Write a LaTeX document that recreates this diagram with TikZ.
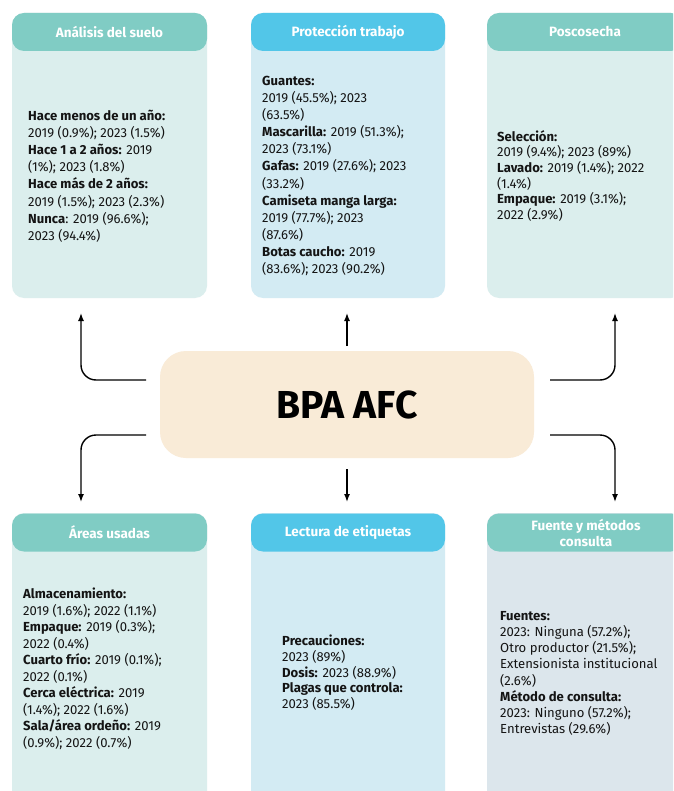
\documentclass[tikz,border=0pt]{standalone}
\usepackage{fontspec}
\setmainfont{Fira Sans}
\usetikzlibrary{arrows.meta}
\definecolor{tealH}{RGB}{128,204,196}
\definecolor{tealB}{RGB}{219,238,237}
\definecolor{blueH}{RGB}{82,198,232}
\definecolor{blueB}{RGB}{211,235,243}
\definecolor{greyB}{RGB}{220,230,236}
\definecolor{centerC}{RGB}{249,235,215}
\definecolor{ink}{RGB}{20,20,20}
\begin{document}
\begin{tikzpicture}[x=1pt,y=-1pt,
  body/.style={draw=none,rounded corners=12pt,inner sep=0pt,minimum width=#1},
  head/.style={draw=none,rounded corners=12pt,inner sep=0pt,minimum height=38pt,minimum width=#1,
     text=white,font=\fontsize{13.5}{16}\selectfont\bfseries,align=center},
  htxt/.style={text=white,font=\fontsize{13.5}{16}\selectfont\bfseries,align=center,inner sep=0pt},
  txt/.style={anchor=north west,inner sep=0pt,align=left,text=ink,
     font=\fontsize{13.1}{#1}\selectfont},
  arr/.style={line width=1.4pt,rounded corners=15pt,-{Latex[length=8pt,width=6pt]}}]
\clip (0,0) rectangle (673,791);
\fill[white] (0,0) rectangle (673,791);

% top row bodies
\node[body=195pt,minimum height=285pt,fill=tealB] (b1) at (109.5,155.5) {};
\node[body=194pt,minimum height=285pt,fill=blueB] (b2) at (348,155.5) {};
\node[body=196pt,minimum height=285pt,fill=tealB] (b3) at (585,155.5) {};
% top row headers
\node[head=195pt,fill=tealH] (h1) at (109.5,32) {Análisis del suelo};
\node[head=194pt,fill=blueH] (h2) at (348,32) {Protección trabajo};
\node[head=196pt,fill=tealH] (h3) at (585,32) {Poscosecha};

% bottom row bodies
\node[body=195pt,minimum height=300pt,fill=tealB] (b4) at (109.5,663) {};
\node[body=194pt,minimum height=300pt,fill=blueB] (b5) at (348,663) {};
\node[body=196pt,minimum height=300pt,fill=greyB] (b6) at (585,663) {};
% bottom row headers
\node[head=195pt,fill=tealH] (h4) at (109.5,532.5) {Áreas usadas};
\node[head=194pt,fill=blueH] (h5) at (348,532.5) {Lectura de etiquetas};
\node[head=196pt,fill=tealH] (h6) at (585,532.5) {};
\node[htxt] (h6t) at (586,533) {Fuente y métodos\\consulta};

% texts
\node[txt=17.1] (t1) at (28,110) {\textbf{Hace menos de un año:}\\
2019 (0.9\%); 2023 (1.5\%)\\
\textbf{Hace 1 a 2 años:} 2019\\
(1\%); 2023 (1.8\%)\\
\textbf{Hace más de 2 años:}\\
2019 (1.5\%); 2023 (2.3\%)\\
\textbf{Nunca}: 2019 (96.6\%);\\
2023 (94.4\%)};

\node[txt=17.1] (t2) at (262,76) {\textbf{Guantes:}\\
2019 (45.5\%); 2023\\
(63.5\%)\\
\textbf{Mascarilla:} 2019 (51.3\%);\\
2023 (73.1\%)\\
\textbf{Gafas:} 2019 (27.6\%); 2023\\
(33.2\%)\\
\textbf{Camiseta manga larga:}\\
2019 (77.7\%); 2023\\
(87.6\%)\\
\textbf{Botas caucho:} 2019\\
(83.6\%); 2023 (90.2\%)};

\node[txt=15.7] (t3) at (497,130) {\textbf{Selección:}\\
2019 (9.4\%); 2023 (89\%)\\
\textbf{Lavado:} 2019 (1.4\%); 2022\\
(1.4\%)\\
\textbf{Empaque:} 2019 (3.1\%);\\
2022 (2.9\%)};

\node[txt=16.5] (t4) at (23,588) {\textbf{Almacenamiento:}\\
2019 (1.6\%); 2022 (1.1\%)\\
\textbf{Empaque:} 2019 (0.3\%);\\
2022 (0.4\%)\\
\textbf{Cuarto frío:} 2019 (0.1\%);\\
2022 (0.1\%)\\
\textbf{Cerca eléctrica:} 2019\\
(1.4\%); 2022 (1.6\%)\\
\textbf{Sala/área ordeño:} 2019\\
(0.9\%); 2022 (0.7\%)};

\node[txt=15.7] (t5) at (282,635) {\textbf{Precauciones:}\\
2023 (89\%)\\
\textbf{Dosis:} 2023 (88.9\%)\\
\textbf{Plagas que controla:}\\
2023 (85.5\%)};

\node[txt=16.2] (t6) at (500,611) {\textbf{Fuentes:}\\
2023: Ninguna (57.2\%);\\
Otro productor (21.5\%);\\
Extensionista institucional\\
(2.6\%)\\
\textbf{Método de consulta:}\\
2023: Ninguno (57.2\%);\\
Entrevistas (29.6\%)};

% center
\node[draw=none,fill=centerC,rounded corners=26pt,minimum width=374pt,minimum height=107pt,
  font=\fontsize{39}{42}\selectfont\bfseries,text=black] (c) at (347,404.5) {BPA AFC};

% connectors
\coordinate (s1) at (146,380); \coordinate (e1) at (81,313);
\coordinate (s2) at (347,346); \coordinate (e2) at (347,313);
\coordinate (s3) at (550,380); \coordinate (e3) at (615,313);
\coordinate (s4) at (146,435); \coordinate (e4) at (81,502);
\coordinate (s5) at (347,469); \coordinate (e5) at (347,502);
\coordinate (s6) at (550,435); \coordinate (e6) at (615,502);
\draw[arr] (s1) -| (e1);
\draw[arr] (s2) -- (e2);
\draw[arr] (s3) -| (e3);
\draw[arr] (s4) -| (e4);
\draw[arr] (s5) -- (e5);
\draw[arr] (s6) -| (e6);
\end{tikzpicture}
\end{document}
